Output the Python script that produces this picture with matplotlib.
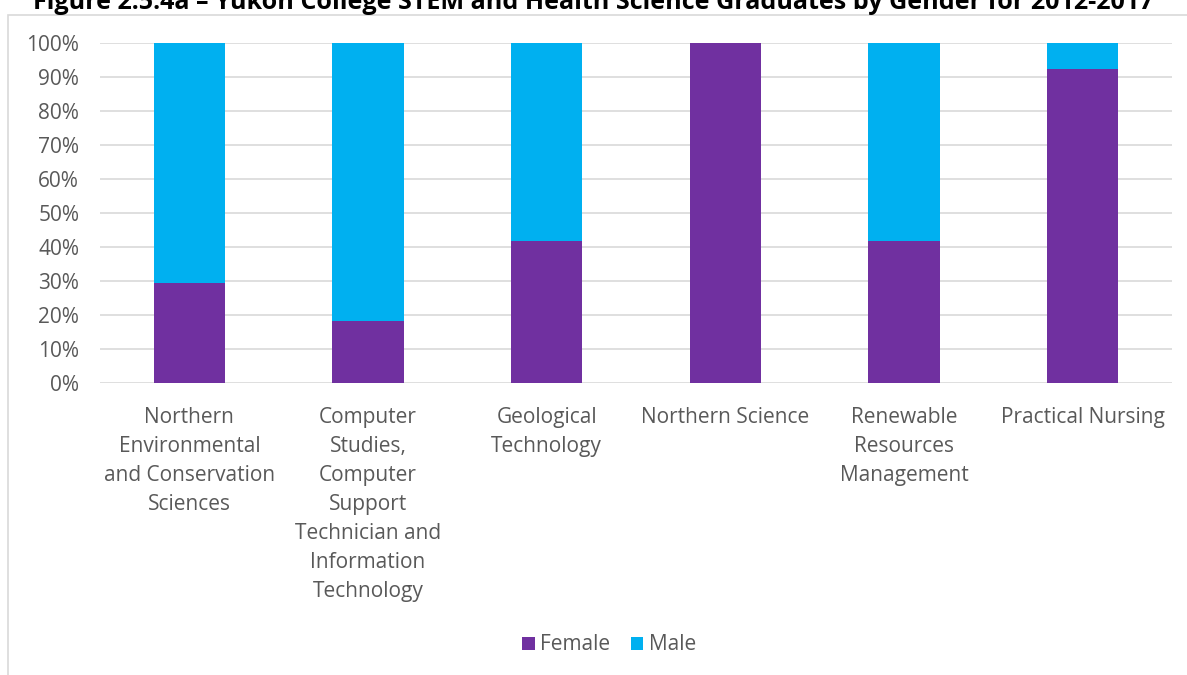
import matplotlib.pyplot as plt
from matplotlib.patches import Rectangle
from matplotlib.ticker import PercentFormatter

plt.rcParams['font.family'] = ['Open Sans', 'DejaVu Sans']

programs = ['Northern\nEnvironmental\nand Conservation\nSciences',
            'Computer\nStudies,\nComputer\nSupport\nTechnician and\nInformation\nTechnology',
            'Geological\nTechnology',
            'Northern Science',
            'Renewable\nResources\nManagement',
            'Practical Nursing']
female = [29.4, 18.2, 41.7, 100.0, 41.7, 92.3]
male = [70.6, 81.8, 58.3, 0.0, 58.3, 7.7]

purple = '#7030a0'
blue = '#00b0f0'
grey_txt = '#595959'
W, H = 1187, 675

fig = plt.figure(figsize=(W / 100, H / 100), dpi=100)

# chart frame (partly cut off on the right and bottom)
fig.patches.append(Rectangle((8 / W, -0.05), 1.2, 1 - 15 / H + 0.05,
                             transform=fig.transFigure, fill=False,
                             edgecolor='#d9d9d9', linewidth=1.2))

# title is cut off at the top edge in the original picture
fig.text(0.5, 1 - 2.5 / H, 'Figure 2.5.4a \u2013 Yukon College STEM and Health Science Graduates by Gender for 2012-2017',
         ha='center', va='center', fontsize=18.1, fontweight='bold', color='black')

ax = fig.add_axes([100 / W, (H - 383) / H, 1072 / W, 340 / H])
x = range(len(programs))
ax.bar(x, female, width=0.4, color=purple, label='Female', zorder=3)
ax.bar(x, male, width=0.4, bottom=female, color=blue, label='Male', zorder=3)

ax.set_xlim(-0.5, len(programs) - 0.5)
ax.set_ylim(0, 100)
ax.set_yticks(range(0, 101, 10))
ax.yaxis.set_major_formatter(PercentFormatter(decimals=0))
ax.grid(axis='y', color='#d9d9d9', linewidth=1.2, zorder=0)
for s in ax.spines.values():
    s.set_visible(False)
ax.tick_params(length=0, labelsize=15, labelcolor=grey_txt)
ax.tick_params(axis='y', pad=15)
ax.tick_params(axis='x', pad=17)
ax.set_xticks(list(x))
ax.set_xticklabels(programs, linespacing=1.5, va='top')

ax.legend(loc='center', bbox_to_anchor=(609 / W, 1 - 645 / H), bbox_transform=fig.transFigure,
          ncol=2, frameon=False, fontsize=15, labelcolor=grey_txt,
          handlelength=0.6, handleheight=0.6, handletextpad=0.25, columnspacing=1.0)

fig.savefig('out.png', dpi=100)
